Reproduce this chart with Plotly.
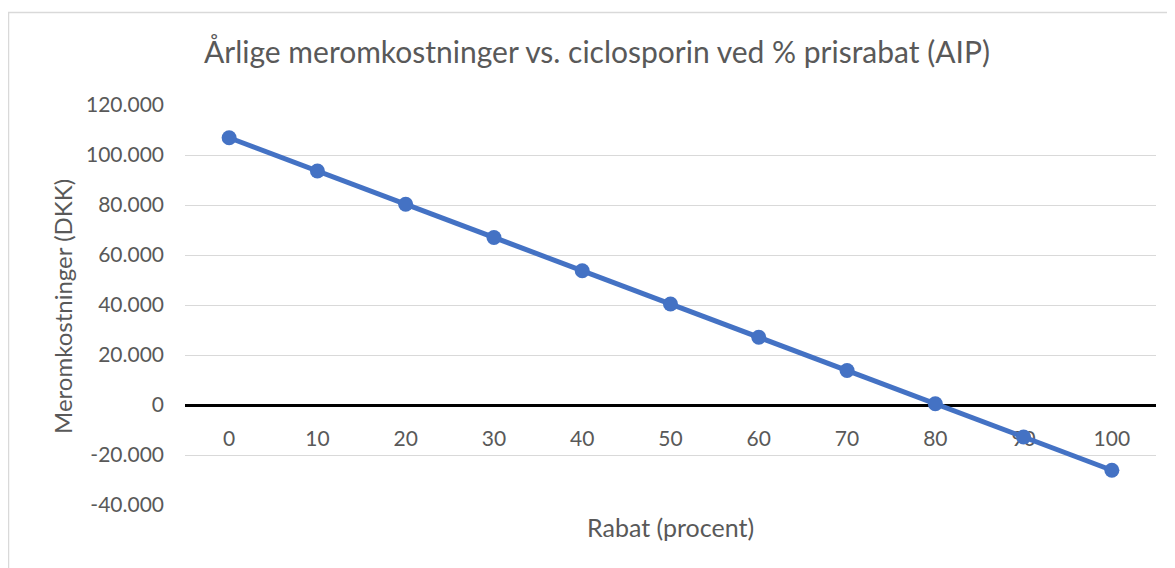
import plotly.graph_objects as go

rabat = [0, 10, 20, 30, 40, 50, 60, 70, 80, 90, 100]
meromkostninger = [106900, 93600, 80300, 67000, 53700, 40400, 27100, 13800, 500, -12800, -26100]

y_tick_vals = [-40000, -20000, 0, 20000, 40000, 60000, 80000, 100000, 120000]
y_tick_labels = ["-40.000", "-20.000", "0", "20.000", "40.000", "60.000", "80.000", "100.000", "120.000"]

title_text = "Årlige meromkostninger vs. ciclosporin ved % prisrabat (AIP)"
x_title = "Rabat (procent)"
y_title = "Meromkostninger (DKK)"

# page body has an 8px margin; work in screen coordinates and shift
OFF = 8
W, H = 1175 - OFF, 568 - OFF
L, R, T, B = 185 - OFF, 19, 105 - OFF, 63
pw, ph = W - L - R, H - T - B

def px_x(p):
    return (p - OFF - L) / pw

def px_y(p):
    return (H - B - (p - OFF)) / ph

FONT = "Lato"
TXT = "#595959"

fig = go.Figure()
fig.add_trace(go.Scatter(
    x=rabat, y=meromkostninger, mode="lines+markers",
    line=dict(color="#4472C4", width=5),
    marker=dict(color="#4472C4", size=15),
    showlegend=False, cliponaxis=False,
))

fig.update_layout(
    width=W, height=H,
    margin=dict(l=L, r=R, t=T, b=B, autoexpand=False),
    paper_bgcolor="white", plot_bgcolor="white",
    font=dict(family=FONT, color=TXT, size=21),
    title=dict(text=title_text, x=(597 - OFF) / W, xanchor="center",
               y=1 - (52 - OFF) / H, yanchor="middle",
               font=dict(family=FONT, size=30, color=TXT)),
    xaxis=dict(
        range=[-5, 105], tickvals=rabat, ticktext=[str(v) for v in rabat],
        showgrid=False, zeroline=False, showline=False,
        anchor="free", position=px_y(406), layer="below traces",
        ticks="", ticklabelstandoff=18,
        tickfont=dict(family=FONT, size=21, color=TXT),
    ),
    yaxis=dict(
        range=[-40000, 120000], tickvals=y_tick_vals, ticktext=y_tick_labels,
        showgrid=True, gridcolor="#D9D9D9", gridwidth=1.3,
        zeroline=True, zerolinecolor="black", zerolinewidth=3,
        showline=False, ticks="", ticklabelstandoff=20,
        tickfont=dict(family=FONT, size=21, color=TXT),
    ),
    annotations=[
        dict(text=x_title, xref="paper", yref="paper", x=px_x(670), y=px_y(527),
             xanchor="center", yanchor="middle", showarrow=False,
             font=dict(family=FONT, size=25, color=TXT)),
        dict(text=y_title, xref="paper", yref="paper", x=px_x(62), y=px_y(307),
             xanchor="center", yanchor="middle", showarrow=False, textangle=-90,
             font=dict(family=FONT, size=24, color=TXT)),
    ],
    shapes=[
        dict(type="rect", xref="paper", yref="paper",
             x0=px_x(8.5), x1=px_x(1190), y0=px_y(600), y1=px_y(12.5),
             line=dict(color="#D9D9D9", width=1.5), fillcolor="rgba(0,0,0,0)",
             layer="below"),
    ],
)

fig.write_html("out.html")
